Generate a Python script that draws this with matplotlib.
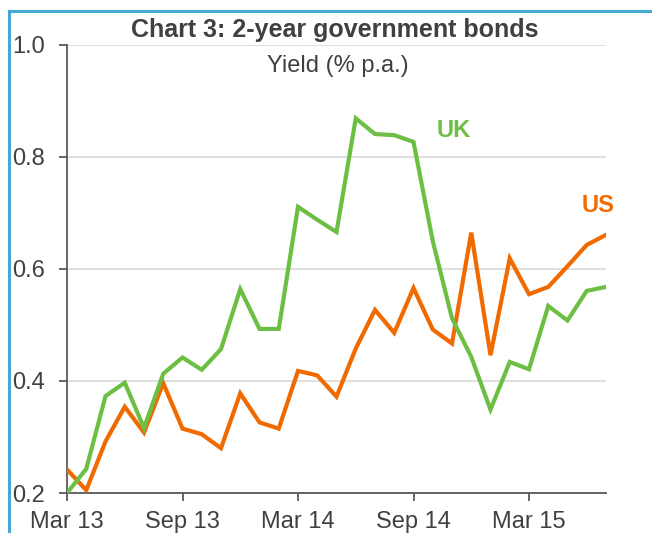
import matplotlib
matplotlib.use('Agg')
import matplotlib.pyplot as plt
from matplotlib.lines import Line2D

plt.rcParams['font.family'] = ['Liberation Sans', 'DejaVu Sans']

# monthly, Mar 13 .. Jul 15
uk = [0.200, 0.243, 0.373, 0.397, 0.316, 0.413, 0.442, 0.420, 0.457, 0.564,
      0.493, 0.493, 0.711, 0.688, 0.666, 0.869, 0.841, 0.839, 0.827, 0.650,
      0.512, 0.443, 0.349, 0.434, 0.421, 0.534, 0.508, 0.561, 0.568]
us = [0.242, 0.205, 0.292, 0.354, 0.308, 0.396, 0.315, 0.305, 0.280, 0.378,
      0.326, 0.315, 0.418, 0.410, 0.372, 0.458, 0.527, 0.486, 0.566, 0.492,
      0.467, 0.665, 0.446, 0.619, 0.555, 0.568, 0.605, 0.643, 0.661]
tick_pos = [0, 6, 12, 18, 24]
tick_labels = ['Mar 13', 'Sep 13', 'Mar 14', 'Sep 14', 'Mar 15']
y_ticks = [0.2, 0.4, 0.6, 0.8, 1.0]

GREEN = '#6CBF43'
ORANGE = '#F06A00'
TEXT = '#404040'
AXIS = '#595959'
BLUE = '#45AAD3'

W, H = 652, 533
fig = plt.figure(figsize=(W / 100, H / 100), dpi=100)
ax = fig.add_axes([67 / W, 1 - 493 / H, (606 - 67) / W, (493 - 45) / H])

xs = list(range(len(uk)))
ax.plot(xs, us, color=ORANGE, lw=3, solid_joinstyle='miter', zorder=3)
ax.plot(xs, uk, color=GREEN, lw=3, solid_joinstyle='miter', zorder=3)

ax.set_xlim(0, len(uk) - 1)
ax.set_ylim(0.2, 1.0)
ax.set_yticks(y_ticks)
ax.set_yticklabels([f'{v:.1f}' for v in y_ticks])
ax.set_xticks(tick_pos)
ax.set_xticklabels(tick_labels)
ax.grid(axis='y', color='#D9D9D9', lw=1.2)
ax.set_axisbelow(True)
for s in ['top', 'right']:
    ax.spines[s].set_visible(False)
for s in ['left', 'bottom']:
    ax.spines[s].set_color(AXIS)
    ax.spines[s].set_linewidth(1.3)
ax.tick_params(colors=AXIS, labelcolor=TEXT, labelsize=17, length=6, width=1.3)
ax.tick_params(axis='x', pad=7)
ax.tick_params(axis='y', pad=10)

ax.text(20.1, 0.848, 'UK', color=GREEN, fontsize=17, fontweight='bold', ha='center', va='center')
ax.text(27.6, 0.713, 'US', color=ORANGE, fontsize=17, fontweight='bold', ha='center', va='center')

fig.text(335 / W, 1 - 30 / H, 'Chart 3: 2-year government bonds', color=TEXT,
         fontsize=18, fontweight='bold', ha='center', va='center')
fig.text(338 / W, 1 - 66 / H, 'Yield (% p.a.)', color=TEXT, fontsize=17,
         ha='center', va='center')

# frame lines
fig.add_artist(Line2D([9 / W, 1], [1 - 11 / H, 1 - 11 / H], color=BLUE, lw=2.2,
                      transform=fig.transFigure))
fig.add_artist(Line2D([9 / W, 9 / W], [0, 1 - 11 / H], color=BLUE, lw=2.2,
                      transform=fig.transFigure))

fig.savefig('out.png', dpi=100)
